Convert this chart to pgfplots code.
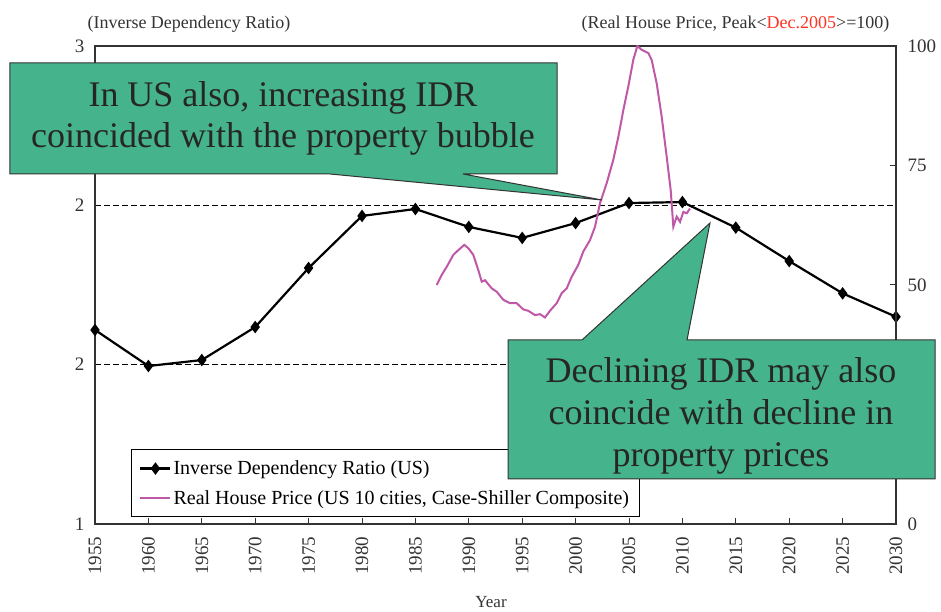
\documentclass[border=0pt]{standalone}
\usepackage{fontspec}
\setmainfont{Liberation Serif}
\usepackage{pgfplots}
\usepackage{pgfplotstable}
\pgfplotsset{compat=1.18}

\definecolor{boxgreen}{HTML}{45B38C}
\definecolor{hpline}{HTML}{C058A8}
\definecolor{peakred}{HTML}{FF3322}
\definecolor{frame}{HTML}{333333}

% Inverse dependency ratio, US (left axis)
\pgfplotstableread{
year idr
1955 1.812
1960 1.661
1965 1.686
1970 1.824
1975 2.071
1980 2.289
1985 2.318
1990 2.243
1995 2.197
2000 2.259
2005 2.343
2010 2.347
2015 2.240
2020 2.100
2025 1.965
2030 1.867
}\idrdata

% Real house price, peak = 100 (right axis)
\pgfplotstableread{
year hp
1986.99 50.0
1987.46 52.1
1987.93 53.8
1988.55 56.3
1989.02 57.3
1989.58 58.4
1989.95 57.7
1990.42 56.3
1990.89 53.1
1991.21 50.7
1991.52 51.0
1992.14 49.3
1992.61 48.6
1993.23 46.9
1993.86 46.2
1994.48 46.2
1995.10 44.9
1995.57 44.6
1996.20 43.7
1996.67 43.9
1997.13 43.2
1997.60 44.6
1998.23 46.2
1998.70 48.3
1999.17 49.3
1999.63 51.7
2000.25 54.2
2000.72 57.0
2001.35 59.4
2001.82 62.2
2002.28 67.1
2002.91 71.3
2003.53 76.2
2004.00 81.0
2004.47 86.6
2004.93 91.5
2005.40 97.1
2005.78 100.0
2006.19 99.2
2006.81 98.5
2007.12 97.1
2007.59 92.2
2008.06 85.2
2008.53 76.8
2008.90 69.9
2009.15 62.2
2009.47 64.3
2009.78 63.2
2010.09 65.3
2010.40 65.0
2010.71 66.0
}\hpdata

\begin{document}
\begin{tikzpicture}
\pgfplotsset{
  every axis/.append style={
    scale only axis, width=801pt, height=478pt,
    /pgf/number format/assume math mode=true,
    /pgf/number format/1000 sep={},
    tick label style={font=\fontsize{19}{21}\selectfont, text=frame},
    axis line style={line width=1.1pt, frame},
    tick style={line width=1pt, frame},
    tick align=inside, major tick length=6pt,
  },
}

\begin{axis}[
  xmin=1955, xmax=2030, ymin=1, ymax=3,
  xtick={1955,1960,...,2030},
  ytick={1,1.66667,2.33333,3}, yticklabels={1,2,2,3},
  xtick pos=bottom, ytick pos=left,
  y tick style={draw=none},
  xticklabel style={rotate=90, anchor=east, xshift=-9pt},
  yticklabel style={xshift=-7pt},
  ymajorgrids,
  grid style={black, line width=0.8pt, dash pattern=on 6pt off 3pt},
  legend cell align=left,
  legend style={
    at={(0.0449,0.0146)}, anchor=south west,
    font=\fontsize{20}{23}\selectfont,
    draw=black, line width=0.8pt,
    inner xsep=8pt, inner ysep=9pt, row sep=10pt,
  },
  legend image code/.code={
    \draw[mark repeat=2, mark phase=2, #1] plot coordinates {(0pt,0pt) (15pt,0pt) (30pt,0pt)};
  },
]
\addplot[black, line width=2.2pt, mark=diamond*, mark size=4.5pt] table {\idrdata};
\addlegendentry{Inverse Dependency Ratio (US)}
\addlegendimage{hpline, line width=1.8pt}
\addlegendentry{Real House Price (US 10 cities, Case-Shiller Composite)}
\end{axis}

\begin{axis}[
  xmin=1955, xmax=2030, ymin=0, ymax=100,
  axis x line=none, axis y line*=right,
  ytick={0,25,50,75,100},
  yticklabel style={anchor=west, xshift=8pt},
]
\addplot[hpline, line width=2pt] table {\hpdata};
\end{axis}

% overlay in picture pixels (x, -y)
\begin{axis}[
  hide axis, clip=false,
  xmin=95, xmax=896, ymin=-524, ymax=-46,
]
\filldraw[fill=boxgreen, draw=frame, line width=1pt]
  (axis cs:10,-63) -- (axis cs:557,-63) -- (axis cs:557,-174) -- (axis cs:463,-174)
  -- (axis cs:602,-200) -- (axis cs:330,-174) -- (axis cs:10,-174) -- cycle;
\node[align=center, text=black!85, font=\fontsize{36}{41}\selectfont]
  at (axis cs:283,-118) {In US also, increasing IDR\\coincided with the property bubble};

\filldraw[fill=boxgreen, draw=frame, line width=1pt]
  (axis cs:508,-340) -- (axis cs:582,-340) -- (axis cs:710,-223) -- (axis cs:687,-340)
  -- (axis cs:935,-340) -- (axis cs:935,-479) -- (axis cs:508,-479) -- cycle;
\node[align=center, text=black!85, font=\fontsize{36}{42}\selectfont]
  at (axis cs:721,-416) {Declining IDR may also\\coincide with decline in\\property prices};

\node[anchor=base, font=\fontsize{18}{20}\selectfont, text=frame]
  at (axis cs:189,-29) {(Inverse Dependency Ratio)};
\node[anchor=base east, font=\fontsize{18}{20}\selectfont, text=frame]
  at (axis cs:893,-29) {(Real House Price, Peak<\textcolor{peakred}{Dec.2005}>=100)};
\node[anchor=base, font=\fontsize{17}{19}\selectfont, text=frame]
  at (axis cs:491,-607) {Year};

\coordinate (bbll) at (axis cs:0,-612);
\coordinate (bbur) at (axis cs:941,0);
\end{axis}
\pgfresetboundingbox
\path[use as bounding box] (bbll) rectangle (bbur);
\end{tikzpicture}
\end{document}
